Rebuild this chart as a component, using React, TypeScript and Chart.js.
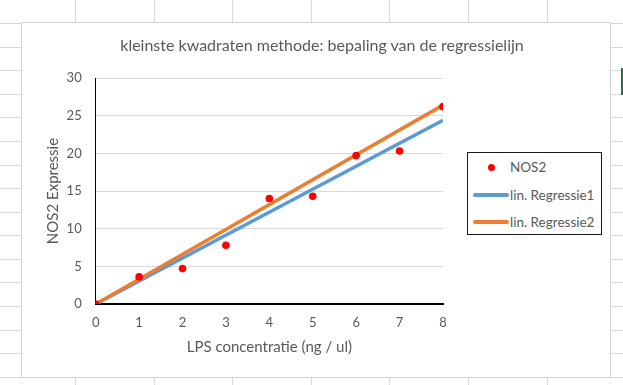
import React, { useEffect, useRef } from "react";
import { Chart, registerables } from "chart.js";

Chart.register(...registerables);

// ---- data ----
const concentrations = [0, 1, 2, 3, 4, 5, 6, 7, 8];
const nos2Values = [0, 3.6, 4.7, 7.8, 14.0, 14.3, 19.7, 20.3, 26.2];
const regression1X = [0, 8];
const regression1Y = [0, 24.4];
const regression2X = [0, 8];
const regression2Y = [0, 26.4];
const seriesNames = ["NOS2", "lin. Regressie1", "lin. Regressie2"];
const yTickMin = 0;
const yTickMax = 30;
const yTickStep = 5;
const xTickMin = 0;
const xTickMax = 8;
const xTickStep = 1;
const chartTitle = "kleinste kwadraten methode: bepaling van de regressielijn";
const xAxisTitle = "LPS concentratie (ng / ul)";
const yAxisTitle = "NOS2 Expressie";

// ---- styles ----
const FONT = "Lato, 'Open Sans', sans-serif";
const TEXT = "#595959";
const RED = "#ff0000";
const BLUE = "#5b9bd5";
const ORANGE = "#ed7d31";
const SHEET_LINE = "#dadada";

const sheetCols = [75, 154, 232, 311, 389, 468, 547];
const sheetRows = [23.1, 46.7, 70.3, 93.8, 117.4, 141, 164.5, 188.1, 211.7, 235.3, 258.8, 282.4, 306, 329.6, 353.1, 376.7];

export default function App() {
  const canvasRef = useRef<HTMLCanvasElement | null>(null);

  useEffect(() => {
    const canvas = canvasRef.current;
    if (!canvas) return;
    const chart = new Chart(canvas, {
      type: "scatter",
      data: {
        datasets: [
          {
            label: seriesNames[0],
            data: concentrations.map((x, i) => ({ x, y: nos2Values[i] })),
            backgroundColor: RED,
            borderColor: RED,
            pointRadius: 3.8,
            pointBorderWidth: 0,
            showLine: false,
            order: 0,
          },
          {
            label: seriesNames[1],
            data: regression1X.map((x, i) => ({ x, y: regression1Y[i] })),
            borderColor: BLUE,
            backgroundColor: BLUE,
            borderWidth: 3.5,
            pointRadius: 0,
            showLine: true,
            order: 2,
          },
          {
            label: seriesNames[2],
            data: regression2X.map((x, i) => ({ x, y: regression2Y[i] })),
            borderColor: ORANGE,
            backgroundColor: ORANGE,
            borderWidth: 3.5,
            pointRadius: 0,
            showLine: true,
            order: 1,
          },
        ],
      },
      options: {
        animation: false,
        responsive: false,
        maintainAspectRatio: false,
        layout: { padding: { left: 0, right: 167, top: 55, bottom: 0 } },
        plugins: {
          legend: { display: false },
          title: { display: false },
          tooltip: { enabled: false },
        },
        scales: {
          x: {
            type: "linear",
            min: xTickMin,
            max: xTickMax,
            ticks: {
              stepSize: xTickStep,
              color: TEXT,
              font: { family: FONT, size: 13 },
              padding: 11,
            },
            grid: { display: false, drawTicks: false },
            border: { display: true, color: "#000000", width: 2 },
            title: {
              display: true,
              text: xAxisTitle,
              color: TEXT,
              font: { family: FONT, size: 15 },
              padding: { top: 0, bottom: 20.5 },
            },
            afterFit: (scale: any) => {
              scale.height = 73;
            },
          },
          y: {
            type: "linear",
            min: yTickMin,
            max: yTickMax,
            ticks: {
              stepSize: yTickStep,
              color: TEXT,
              font: { family: FONT, size: 13 },
              padding: 14,
            },
            grid: { color: "#d9d9d9", lineWidth: 1, drawTicks: false },
            border: { display: true, color: "#000000", width: 1 },
            title: {
              display: true,
              text: yAxisTitle,
              color: TEXT,
              font: { family: FONT, size: 15 },
              padding: { top: 22.5, bottom: 0 },
            },
            afterFit: (scale: any) => {
              scale.width = 73.7;
            },
          },
        },
      },
    });
    return () => chart.destroy();
  }, []);

  return (
    <div
      style={{
        position: "fixed",
        left: 0,
        top: 0,
        width: 623,
        height: 385,
        background: "#ffffff",
        overflow: "hidden",
        fontFamily: FONT,
      }}
    >
      {sheetCols.map((x) => (
        <div key={"c" + x} style={{ position: "absolute", left: x, top: 0, width: 1, height: 385, background: SHEET_LINE }} />
      ))}
      {sheetRows.map((y) => (
        <div key={"r" + y} style={{ position: "absolute", left: 0, top: Math.round(y), width: 623, height: 1, background: SHEET_LINE }} />
      ))}
      <div style={{ position: "absolute", left: 621, top: 68, width: 2, height: 27, background: "#217346" }} />
      <div
        style={{
          position: "absolute",
          left: 22,
          top: 23,
          width: 588,
          height: 354,
          background: "#ffffff",
          boxShadow: "0 0 0 1px #d4d4d4",
        }}
      >
        <canvas ref={canvasRef} width={588} height={354} style={{ position: "absolute", left: 0, top: 0, width: 588, height: 354 }} />
        <div
          style={{
            position: "absolute",
            left: 0,
            width: 600,
            top: 11,
            textAlign: "center",
            color: TEXT,
            fontSize: 16,
            lineHeight: "22px",
            whiteSpace: "nowrap",
          }}
        >
          {chartTitle}
        </div>
        <div
          style={{
            position: "absolute",
            left: 445,
            top: 129,
            width: 135,
            height: 83,
            boxSizing: "border-box",
            border: "1px solid #1a1a1a",
            background: "#ffffff",
            color: TEXT,
            fontSize: 13.5,
          }}
        >
          {seriesNames.map((name, i) => (
            <div key={name} style={{ position: "absolute", left: 0, top: 4 + i * 27.5, height: 20, width: 133 }}>
              {i === 0 ? (
                <div style={{ position: "absolute", left: 19.5, top: 6.5, width: 7, height: 7, borderRadius: 4, background: RED }} />
              ) : (
                <div
                  style={{
                    position: "absolute",
                    left: 5,
                    top: 8,
                    width: 36,
                    height: 4,
                    borderRadius: 2,
                    background: i === 1 ? BLUE : ORANGE,
                  }}
                />
              )}
              <span style={{ position: "absolute", left: 42, top: 0, lineHeight: "20px", whiteSpace: "nowrap" }}>{name}</span>
            </div>
          ))}
        </div>
      </div>
    </div>
  );
}
